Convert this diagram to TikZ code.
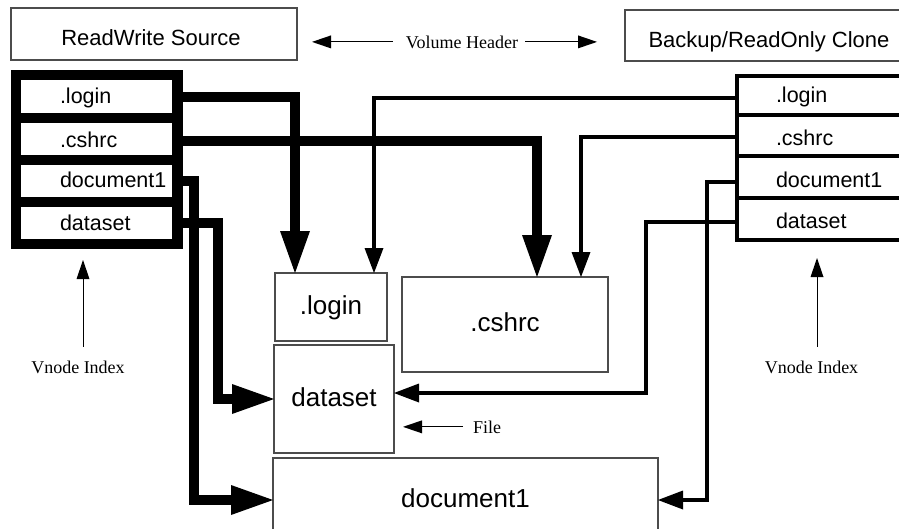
\documentclass[tikz,border=0pt]{standalone}
\usepackage{fontspec}
\setmainfont{Liberation Sans}
\newfontfamily\timesf{Liberation Serif}
\usetikzlibrary{arrows.meta}
\begin{document}
\begin{tikzpicture}[x=1pt,y=-1pt,
  every node/.style={outer sep=0pt},
  fbox/.style={draw=black!70, line width=1.2pt, inner sep=0pt},
  bigtxt/.style={font=\fontsize{26}{30}\selectfont, text height=19pt, text depth=5pt},
  hdrtxt/.style={font=\fontsize{22}{26}\selectfont, anchor=base, inner sep=0pt},
  celltxt/.style={font=\fontsize{21.5}{25}\selectfont, anchor=base west, inner sep=0pt},
  sertxt/.style={font=\timesf\fontsize{18}{21}\selectfont, anchor=base, inner sep=0pt},
  lcell/.style={fill=white, minimum width=151pt, minimum height=32.5pt, inner sep=0pt},
  rcell/.style={draw=black, line width=4pt, minimum width=183pt, inner sep=0pt},
  thickc/.style={line width=10pt, -{Triangle[length=42pt,width=30pt,line width=0pt]}},
  thinc/.style={line width=4pt, -{Triangle[length=25pt,width=19pt,line width=0pt]}},
  notec/.style={line width=1pt, -{Triangle[length=19pt,width=13pt,line width=0pt]}},
]
\useasboundingbox (0,0) rectangle (899,528);

% header
\node[fbox, minimum width=286pt, minimum height=52pt] (rws) at (154,34) {};
\node[hdrtxt] (rwsT) at (151,45) {ReadWrite Source};
\node[fbox, minimum width=280pt, minimum height=51pt] (bro) at (765,35.5) {};
\node[hdrtxt] (broT) at (769,47) {Backup/ReadOnly Clone};
\node[sertxt] (vh) at (462,48) {Volume Header};
\draw[notec, shorten <=13pt, shorten >=15pt] (vh.west) -- (vh.west -| rws.east);
\draw[notec, shorten <=7pt, shorten >=28pt] (vh.east) -- (vh.east -| bro.west);

% left vnode index
\node[fill=black, minimum width=172pt, minimum height=179pt, inner sep=0pt] (lFrame) at (97,159.5) {};
\node[lcell] (lLogin) at (96.5,96.5) {};
\node[lcell] (lCshrc) at (96.5,139) {};
\node[lcell] (lDoc) at (96.5,181) {};
\node[lcell] (lData) at (96.5,223) {};
\node[celltxt] (lLoginT) at (60,103) {.login};
\node[celltxt] (lCshrcT) at (60,147) {.cshrc};
\node[celltxt] (lDocT) at (60,187) {document1};
\node[celltxt] (lDataT) at (60,230) {dataset};

% right vnode index
\node[rcell, minimum height=39pt] (rLogin) at (828.5,95.5) {};
\node[rcell, minimum height=41pt] (rCshrc) at (828.5,135.5) {};
\node[rcell, minimum height=42pt] (rDoc) at (828.5,177) {};
\node[rcell, minimum height=42pt] (rData) at (828.5,219) {};
\node[celltxt] (rLoginT) at (776,102) {.login};
\node[celltxt] (rCshrcT) at (776,145) {.cshrc};
\node[celltxt] (rDocT) at (776,187) {document1};
\node[celltxt] (rDataT) at (776,228) {dataset};

% files
\node[fbox, bigtxt, minimum width=112pt, minimum height=68pt] (fLogin) at (331,307) {.login};
\node[fbox, bigtxt, minimum width=206pt, minimum height=95pt] (fCshrc) at (505,324.5) {.cshrc};
\node[fbox, bigtxt, minimum width=120pt, minimum height=108pt] (fData) at (334,399) {dataset};
\node[fbox, bigtxt, minimum width=385pt, minimum height=84pt] (fDoc) at (465.5,500) {document1};

% connectors from read/write source
\draw[thickc] (lLogin.east) -| ([xshift=20pt]fLogin.north west);
\draw[thickc] ([yshift=-2pt]lCshrc.east) -| ([xshift=135pt]fCshrc.north west);
\draw[thickc] (lDoc.east) -- ++(22,0) |- (fDoc.west);
\draw[thickc] (lData.east) -- ++(46,0) |- (fData.west);

% connectors from clone
\draw[thinc] ([yshift=-2.5pt]rLogin.west) -| ([xshift=99pt]fLogin.north west);
\draw[thinc] ([yshift=-1.5pt]rCshrc.west) -| ([xshift=179pt]fCshrc.north west);
\draw[thinc] ([yshift=-5pt]rDoc.west) -- ++(-30,0) |- (fDoc.east);
\draw[thinc] ([yshift=-3pt]rData.west) -- ++(-91,0) |- ([yshift=6pt]fData.east);

% vnode index labels
\node[sertxt] (lVn) at (78,373) {Vnode Index};
\coordinate (lVnA) at ([xshift=5pt,yshift=13.7pt]lVn.north);
\draw[notec, shorten >=11pt] (lVnA) -- (lVnA |- lFrame.south);
\node[sertxt] (rVn) at (811.5,373) {Vnode Index};
\coordinate (rVnA) at ([xshift=5.5pt,yshift=13.7pt]rVn.north);
\draw[notec, shorten >=18pt] (rVnA) -- (rVnA |- rData.south);

% file label
\node[sertxt, anchor=base west] (fileT) at (473,433) {File};
\draw[notec, shorten <=10pt, shorten >=9pt] (fileT.west) -- (fileT.west -| fData.east);
\end{tikzpicture}
\end{document}
